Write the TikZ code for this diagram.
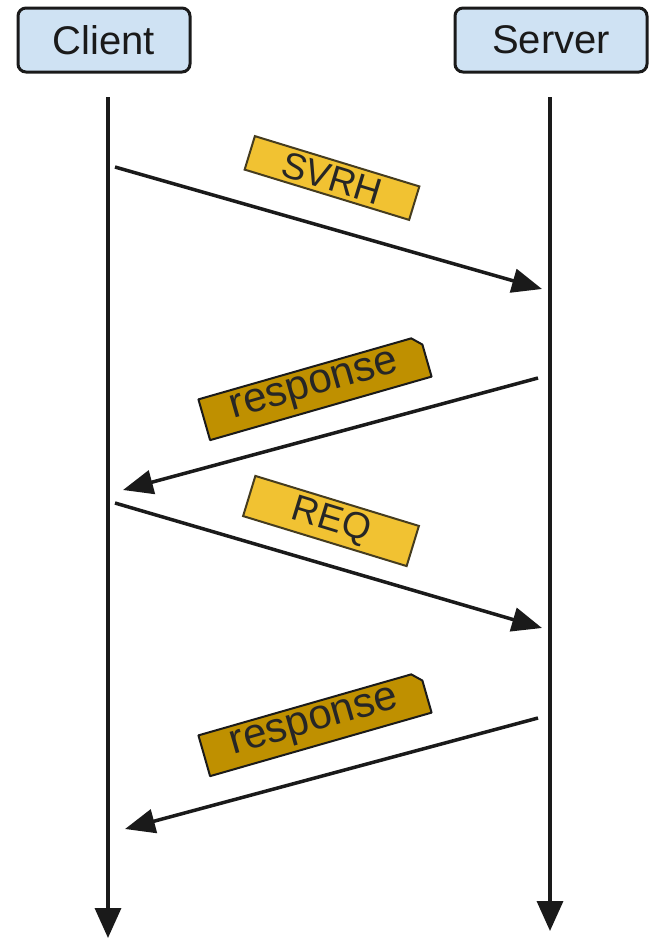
\documentclass[tikz,border=0pt]{standalone}
\usepackage{fontspec}
\setmainfont{Liberation Sans}
\usetikzlibrary{arrows.meta,calc,backgrounds}
\definecolor{hdrfill}{HTML}{CFE2F3}
\definecolor{reqfill}{HTML}{F1C232}
\definecolor{respfill}{HTML}{BF9000}
\definecolor{edgecol}{HTML}{1A1A1A}
\begin{document}
\begin{tikzpicture}[x=1pt,y=-1pt,
  hdr/.style={draw=edgecol, line width=3pt, fill=hdrfill, rounded corners=8pt, inner sep=0pt, font=\fontsize{40}{48}\selectfont, text=edgecol},
  life/.style={line width=3.5pt, draw=edgecol, -{Triangle[length=30pt,width=26pt]}},
  msg/.style={line width=3.5pt, draw=edgecol, -{Triangle[length=30pt,width=24pt]}},
  reqlbl/.style={draw=edgecol!80!reqfill, line width=2pt, fill=reqfill, inner sep=0pt, font=\fontsize{37}{44}\selectfont, text=black!85},
  resplbl/.style={inner sep=0pt, font=\fontsize{42}{50}\selectfont, text=black!85},
  respbox/.style={draw=edgecol, line width=2pt, fill=respfill, line join=round}
]
\useasboundingbox (0,0) rectangle (650,938);

% headers
\node[hdr, minimum width=172pt, minimum height=64pt] (client) at (104,40) {Client};
\node[hdr, minimum width=192pt, minimum height=64pt] (server) at (551,40) {Server};

% lifelines
\coordinate (ctop) at (108,97);
\coordinate (cbot) at (108,938);
\coordinate (stop) at (550,97);
\coordinate (sbot) at (550,931);
\draw[life] (ctop) -- (cbot);
\draw[life] (stop) -- (sbot);

% message end points
\coordinate (m1a) at (115,167);
\coordinate (m1b) at (542,289);
\coordinate (m2a) at (538,378);
\coordinate (m2b) at (123,490);
\coordinate (m3a) at (115,503);
\coordinate (m3b) at (542,628);
\coordinate (m4a) at (538,718);
\coordinate (m4b) at (125,829);

\draw[msg] (m1a) -- (m1b);
\draw[msg] (m2a) -- (m2b);
\draw[msg] (m3a) -- (m3b);
\draw[msg] (m4a) -- (m4b);

% labels
\node[reqlbl, rotate=-17, minimum width=172pt, minimum height=35pt] (svrh) at (332,178) {SVRH};
\node[reqlbl, rotate=-17, minimum width=171pt, minimum height=42pt] (req) at (331,521) {REQ};

\node[resplbl, rotate=16, minimum width=230pt, minimum height=42pt] (resp1) at (315,388) {response};
\node[resplbl, rotate=16, minimum width=230pt, minimum height=42pt] (resp2) at (315,724) {response};

\begin{scope}[on background layer]
  \foreach \r in {resp1,resp2}{
    \draw[respbox] (\r.south west) -- (\r.north west)
      -- ($(\r.north east)!9pt!(\r.north west)$)
      -- ($(\r.north east)!9pt!(\r.south east)$)
      -- (\r.south east) -- cycle;
  }
\end{scope}
\end{tikzpicture}
\end{document}
